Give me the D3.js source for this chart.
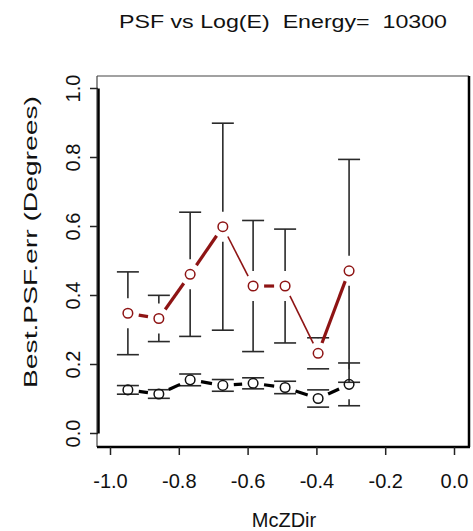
<!DOCTYPE html>
<html>
<head>
<meta charset="utf-8">
<script src="https://cdn.jsdelivr.net/npm/d3@7"></script>
<style>
  html, body { margin: 0; padding: 0; background: #fff; }
  svg { display: block; }
  text { font-family: "Liberation Sans", Arial, sans-serif; fill: #111; }
</style>
</head>
<body>
<svg id="chart" width="473" height="531"></svg>
<script>
const titleText = "PSF vs Log(E)  Energy=  10300";
const xLabel = "McZDir";
const yLabel = "Best.PSF.err (Degrees)";

const mcZDir = [-0.948, -0.858, -0.767, -0.672, -0.584, -0.491, -0.395, -0.305];
const redMean = [0.347, 0.332, 0.46, 0.598, 0.426, 0.426, 0.231, 0.47];
const redErr = [0.12, 0.067, 0.18, 0.30, 0.19, 0.165, 0.045, 0.323];
const blackMean = [0.125, 0.113, 0.154, 0.138, 0.144, 0.132, 0.10, 0.141];
const blackErr = [0.0125, 0.0125, 0.017, 0.017, 0.016, 0.018, 0.025, 0.062];

const xTicks = [-1.0, -0.8, -0.6, -0.4, -0.2, 0.0];
const yTicks = [0.0, 0.2, 0.4, 0.6, 0.8, 1.0];

const svg = d3.select("#chart");
const x = d3.scaleLinear().domain([-1, 0]).range([110, 454]);
const y = d3.scaleLinear().domain([0, 1]).range([433, 88]);
const box = {left: 97, right: 469, top: 76, bottom: 447};

const RED = "#8e1414";
const BAR = "#2a2a2a";

// box: thin top/left, heavy bottom/right
svg.append("line").attr("x1", box.left).attr("x2", box.right).attr("y1", box.top).attr("y2", box.top)
  .attr("stroke", "#444").attr("stroke-width", 1.2);
svg.append("line").attr("x1", box.left).attr("x2", box.left).attr("y1", box.top).attr("y2", box.bottom)
  .attr("stroke", "#444").attr("stroke-width", 1.2);
svg.append("line").attr("x1", box.left).attr("x2", box.right + 1).attr("y1", box.bottom).attr("y2", box.bottom)
  .attr("stroke", "#000").attr("stroke-width", 2.5);
svg.append("line").attr("x1", box.right).attr("x2", box.right).attr("y1", box.top).attr("y2", box.bottom)
  .attr("stroke", "#000").attr("stroke-width", 2.5);

// y axis
const yAxis = d3.axisLeft(y).tickValues(yTicks).tickFormat(d3.format(".1f")).tickSize(8).tickSizeOuter(0);
const gy = svg.append("g").attr("transform", `translate(${box.left + 1},0)`).call(yAxis);
gy.select(".domain").attr("stroke", "#000").attr("stroke-width", 2.5);
gy.selectAll(".tick line").attr("stroke", "#222").attr("stroke-width", 1.5);
gy.selectAll(".tick text")
  .attr("x", 0).attr("dy", 0)
  .attr("transform", "translate(-18,0) rotate(-90)")
  .attr("text-anchor", "middle")
  .attr("font-size", 20)
  .attr("fill", "#222")
  .style("font-family", "'Liberation Sans', Arial, sans-serif");

// x axis
const xAxis = d3.axisBottom(x).tickValues(xTicks).tickFormat(d3.format(".1f")).tickSize(8).tickSizeOuter(0);
const gx = svg.append("g").attr("transform", `translate(0,${box.bottom})`).call(xAxis);
gx.select(".domain").remove();
gx.selectAll(".tick line").attr("stroke", "#222").attr("stroke-width", 1.5);
gx.selectAll(".tick text")
  .attr("y", 41).attr("dy", 0)
  .attr("font-size", 20)
  .attr("fill", "#222")
  .text(d => d3.format(".1f")(d).replace("\u2212", "-"))
  .style("font-family", "'Liberation Sans', Arial, sans-serif");

// titles
svg.append("text").attr("x", 283).attr("y", 28).attr("text-anchor", "middle")
  .attr("font-size", 19).attr("textLength", 328).attr("lengthAdjust", "spacingAndGlyphs")
  .attr("xml:space", "preserve").style("white-space", "pre").attr("fill", "#222")
  .text(titleText);
svg.append("text").attr("x", 284).attr("y", 527).attr("text-anchor", "middle")
  .attr("font-size", 20).attr("fill", "#222").text(xLabel);
svg.append("text").attr("transform", "translate(37,242) rotate(-90)").attr("text-anchor", "middle")
  .attr("font-size", 19).attr("textLength", 292).attr("lengthAdjust", "spacingAndGlyphs")
  .attr("fill", "#333")
  .text(yLabel);

// helpers
function drawSeries(means, errs, color, lineColor) {
  const pts = mcZDir.map((d, i) => ({px: x(d), py: y(means[i]), lo: y(means[i] - errs[i]), hi: y(means[i] + errs[i])}));
  const gap = 15, capW = 11;
  const g = svg.append("g");
  // error bars
  pts.forEach(p => {
    if (p.hi < p.py - gap) g.append("line").attr("x1", p.px).attr("x2", p.px).attr("y1", p.hi).attr("y2", p.py - gap)
      .attr("stroke", BAR).attr("stroke-width", 1.6);
    if (p.lo > p.py + gap) g.append("line").attr("x1", p.px).attr("x2", p.px).attr("y1", p.lo).attr("y2", p.py + gap)
      .attr("stroke", BAR).attr("stroke-width", 1.6);
    [p.hi, p.lo].forEach(yy => g.append("line").attr("x1", p.px - capW).attr("x2", p.px + capW)
      .attr("y1", yy).attr("y2", yy).attr("stroke", BAR).attr("stroke-width", 1.6));
  });
  // connecting lines with gaps
  const lgap = 11;
  for (let i = 0; i < pts.length - 1; i++) {
    const a = pts[i], b = pts[i + 1];
    const dx = b.px - a.px, dy = b.py - a.py, L = Math.hypot(dx, dy);
    if (L <= 2 * lgap) continue;
    const ux = dx / L, uy = dy / L;
    const steepDown = dy / dx > 1;
    g.append("line")
      .attr("x1", a.px + ux * lgap).attr("y1", a.py + uy * lgap)
      .attr("x2", b.px - ux * lgap).attr("y2", b.py - uy * lgap)
      .attr("stroke", lineColor).attr("stroke-width", steepDown ? 1.6 : 3.2);
  }
  // points
  pts.forEach(p => g.append("circle").attr("cx", p.px).attr("cy", p.py).attr("r", 4.8)
    .attr("fill", "none").attr("stroke", color).attr("stroke-width", 1.5));
}

drawSeries(redMean, redErr, RED, RED);
drawSeries(blackMean, blackErr, "#111", "#000");
</script>
</body>
</html>
